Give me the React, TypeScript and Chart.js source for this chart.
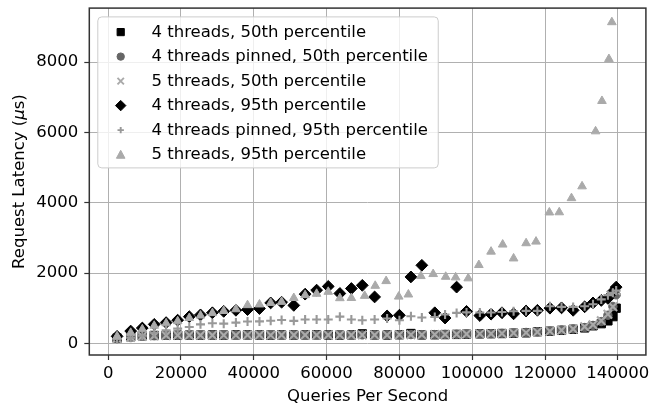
import { useEffect, useRef } from 'react';
import { Chart, registerables } from 'chart.js';

Chart.register(...registerables);

const FAMILY = '"DejaVu Sans", "Liberation Sans", sans-serif';
const FS = 16.5;

// ---- tick labels ----
const xTicks = [0, 20000, 40000, 60000, 80000, 100000, 120000, 140000];
const yTicks = [0, 2000, 4000, 6000, 8000];

// ---- series names ----
const seriesLabels = [
  '4 threads, 50th percentile',
  '4 threads pinned, 50th percentile',
  '5 threads, 50th percentile',
  '4 threads, 95th percentile',
  '4 threads pinned, 95th percentile',
  '5 threads, 95th percentile',
];

// ---- x values (queries per second) ----
const qpsMain = [
  2450, 6190, 9380, 12650, 15920, 19090, 22280, 25360, 28630, 31740,
  35090, 38280, 41560, 44640, 47640, 50990, 54100, 57260, 60450, 63640,
  66800, 69800, 73190, 76620, 80000, 83160, 86160, 89710, 92540, 95710,
  98430, 102090, 105170, 108170, 111360, 114790, 117900, 121340, 124530, 127720,
  130880, 133170, 135440, 137260, 138630, 139530,
];

const qps5t95 = [
  2450, 6190, 9380, 12650, 15920, 19090, 22280, 25360, 28630, 31740,
  35090, 38280, 41560, 44640, 47640, 50990, 54100, 57260, 60450, 63640,
  66800, 70460, 73350, 76350, 79810, 82460, 85890, 89270, 92710, 95440,
  98900, 101820, 105170, 108360, 111360, 114800, 117520, 121180, 123900, 127260,
  130170, 133880, 135630, 137540, 138350,
];

// ---- latency values (microseconds) ----
const lat4t50 = [
  150, 190, 215, 225, 230, 232, 235, 235, 238, 236,
  240, 240, 238, 236, 240, 238, 240, 242, 238, 236,
  240, 270, 240, 238, 245, 280, 240, 245, 250, 255,
  262, 270, 275, 280, 290, 300, 330, 345, 370, 400,
  440, 500, 560, 640, 760, 1000,
];

const latPinned50 = [
  140, 180, 205, 220, 228, 232, 232, 234, 235, 236,
  236, 238, 236, 236, 238, 238, 240, 240, 238, 236,
  238, 240, 240, 240, 245, 250, 248, 250, 255, 258,
  265, 272, 278, 285, 295, 310, 330, 350, 380, 410,
  450, 510, 620, 800, 1050, 1380,
];

const lat5t50 = [
  140, 175, 200, 218, 225, 230, 230, 232, 232, 234,
  234, 236, 236, 234, 236, 236, 238, 238, 236, 236,
  238, 240, 238, 240, 242, 245, 248, 250, 252, 258,
  265, 270, 275, 282, 292, 305, 325, 345, 375, 410,
  470, 530, 640, 830, 1040, 1500,
];

const lat4t95 = [
  200, 350, 437, 540, 590, 660, 760, 810, 870, 910,
  940, 960, 990, 1150, 1170, 1080, 1400, 1514, 1620, 1420,
  1560, 1650, 1320, 780, 800, 1890, 2220, 870, 720, 1600,
  910, 790, 830, 870, 840, 920, 940, 1000, 1010, 940,
  1040, 1150, 1220, 1280, 1470, 1600,
];

const latPinned95 = [
  120, 160, 220, 300, 370, 420, 466, 540, 570, 560,
  590, 620, 625, 645, 665, 640, 677, 677, 677, 760,
  677, 657, 677, 706, 657, 771, 734, 751, 820, 866,
  880, 877, 877, 894, 914, 923, 923, 1057, 1037, 1037,
  1057, 1114, 1250, 1371, 1437, 1500,
];

const lat5t95 = [
  200, 300, 400, 500, 570, 630, 720, 790, 860, 920,
  970, 1086, 1106, 1151, 1180, 1290, 1371, 1410, 1466, 1285,
  1290, 1351, 1637, 1771, 1330, 1390, 1914, 1971, 1894, 1877,
  1849, 2228, 2609, 2810, 2415, 2848, 2894, 3723, 3728, 4130,
  4466, 6030, 6894, 8086, 9134,
];

// ---- marker styles ----
type Mk = { style: string; color: string; radius: number; border: number; filled: boolean; lg: number };
const markers: Mk[] = [
  { style: 'rect', color: '#000000', radius: 5.9, border: 1, filled: true, lg: 3.6 },
  { style: 'circle', color: '#666666', radius: 4.2, border: 1, filled: true, lg: 3.7 },
  { style: 'crossRot', color: '#aaaaaa', radius: 6.0, border: 2.1, filled: false, lg: 3.2 },
  { style: 'rectRot', color: '#000000', radius: 5.9, border: 1, filled: true, lg: 5.2 },
  { style: 'cross', color: '#999999', radius: 4.5, border: 2.1, filled: false, lg: 3.2 },
  { style: 'triangle', color: '#aaaaaa', radius: 5.0, border: 1, filled: true, lg: 4.3 },
];

const seriesX = [qpsMain, qpsMain, qpsMain, qpsMain, qpsMain, qps5t95];
const seriesY = [lat4t50, latPinned50, lat5t50, lat4t95, latPinned95, lat5t95];

function drawLegendMarker(ctx: CanvasRenderingContext2D, m: Mk, x: number, y: number) {
  const r = m.lg;
  ctx.save();
  ctx.fillStyle = m.color;
  ctx.strokeStyle = m.color;
  ctx.lineWidth = m.filled ? 1 : 1.9;
  ctx.beginPath();
  switch (m.style) {
    case 'rect':
      ctx.rect(x - r, y - r, 2 * r, 2 * r);
      break;
    case 'circle':
      ctx.arc(x, y, r, 0, Math.PI * 2);
      break;
    case 'rectRot':
      ctx.moveTo(x - r, y);
      ctx.lineTo(x, y - r);
      ctx.lineTo(x + r, y);
      ctx.lineTo(x, y + r);
      ctx.closePath();
      break;
    case 'triangle':
      ctx.moveTo(x, y - r);
      ctx.lineTo(x + r, y + r * 0.85);
      ctx.lineTo(x - r, y + r * 0.85);
      ctx.closePath();
      break;
    case 'crossRot':
      ctx.moveTo(x - r, y - r);
      ctx.lineTo(x + r, y + r);
      ctx.moveTo(x + r, y - r);
      ctx.lineTo(x - r, y + r);
      break;
    case 'cross':
      ctx.moveTo(x - r, y);
      ctx.lineTo(x + r, y);
      ctx.moveTo(x, y - r);
      ctx.lineTo(x, y + r);
      break;
  }
  if (m.filled) {
    ctx.fill();
    ctx.stroke();
  } else {
    ctx.stroke();
  }
  ctx.restore();
}

function roundRect(ctx: CanvasRenderingContext2D, x: number, y: number, w: number, h: number, r: number) {
  ctx.beginPath();
  ctx.moveTo(x + r, y);
  ctx.lineTo(x + w - r, y);
  ctx.quadraticCurveTo(x + w, y, x + w, y + r);
  ctx.lineTo(x + w, y + h - r);
  ctx.quadraticCurveTo(x + w, y + h, x + w - r, y + h);
  ctx.lineTo(x + r, y + h);
  ctx.quadraticCurveTo(x, y + h, x, y + h - r);
  ctx.lineTo(x, y + r);
  ctx.quadraticCurveTo(x, y, x + r, y);
  ctx.closePath();
}

const decorPlugin = {
  id: 'decor',
  afterDraw(chart: any) {
    const ctx: CanvasRenderingContext2D = chart.ctx;
    const ca = chart.chartArea;
    // legend
    const lx = ca.left + 8;
    const ly = ca.top + 8.3;
    const rowH = 24.5;
    ctx.save();
    ctx.font = `${FS}px ${FAMILY}`;
    let maxW = 0;
    seriesLabels.forEach((t) => {
      maxW = Math.max(maxW, ctx.measureText(t).width);
    });
    const boxW = 54 + maxW + 10;
    const boxH = rowH * 6 + 4;
    roundRect(ctx, lx + 0.5, ly + 0.5, boxW, boxH, 4);
    ctx.fillStyle = 'rgba(255,255,255,0.8)';
    ctx.fill();
    ctx.strokeStyle = '#cccccc';
    ctx.lineWidth = 1;
    ctx.stroke();
    seriesLabels.forEach((t, i) => {
      const cy = ly + 15.7 + i * rowH;
      drawLegendMarker(ctx, markers[i], lx + 23.4, cy);
      ctx.fillStyle = '#000000';
      ctx.textBaseline = 'middle';
      ctx.textAlign = 'left';
      ctx.fillText(t, lx + 54.2, cy + 0.5);
    });
    ctx.restore();

    // frame
    ctx.save();
    ctx.strokeStyle = '#333333';
    ctx.lineWidth = 1.5;
    ctx.strokeRect(ca.left, ca.top, ca.right - ca.left, ca.bottom - ca.top);
    ctx.restore();

    // y-axis title with italic mu
    ctx.save();
    ctx.translate(19.5, (ca.top + ca.bottom) / 2);
    ctx.rotate(-Math.PI / 2);
    const f1 = `${FS}px ${FAMILY}`;
    const f2 = `italic ${FS}px ${FAMILY}`;
    const parts: [string, string][] = [
      ['Request Latency (', f1],
      ['\u03bc', f2],
      ['s)', f1],
    ];
    let total = 0;
    const widths = parts.map(([t, f]) => {
      ctx.font = f;
      const w = ctx.measureText(t).width;
      total += w;
      return w;
    });
    let x = -total / 2;
    ctx.fillStyle = '#000000';
    ctx.textBaseline = 'middle';
    ctx.textAlign = 'left';
    parts.forEach(([t, f], i) => {
      ctx.font = f;
      ctx.fillText(t, x, 0);
      x += widths[i];
    });
    ctx.restore();
  },
};

export default function App() {
  const ref = useRef<HTMLCanvasElement>(null);

  useEffect(() => {
    const canvas = ref.current;
    if (!canvas) return;
    const datasets = seriesLabels.map((label, i) => {
      const m = markers[i];
      return {
        label,
        data: seriesX[i].map((x, j) => ({ x, y: seriesY[i][j] })),
        pointStyle: m.style,
        pointRadius: m.radius,
        pointHoverRadius: m.radius,
        pointBackgroundColor: m.filled ? m.color : 'rgba(0,0,0,0)',
        pointBorderColor: m.color,
        pointBorderWidth: m.border,
        showLine: false,
        order: 6 - i,
      };
    });

    const tickFont = { family: FAMILY, size: FS };
    const chart = new Chart(canvas, {
      type: 'scatter',
      data: { datasets: datasets as any },
      options: {
        responsive: false,
        animation: false,
        devicePixelRatio: 1,
        layout: { padding: { left: 0, right: 4, top: 6.7, bottom: 0 } },
        plugins: {
          legend: { display: false },
          tooltip: { enabled: false },
        },
        scales: {
          x: {
            type: 'linear',
            min: -5180,
            max: 147700,
            afterBuildTicks: (s: any) => {
              s.ticks = xTicks.map((v) => ({ value: v }));
            },
            afterFit: (s: any) => {
              s.height = 54;
              s.paddingLeft = 0;
              s.paddingRight = 0;
            },
            border: { display: false },
            grid: {
              color: '#b0b0b0',
              lineWidth: 1,
              tickColor: '#333333',
              tickLength: 5,
              tickWidth: 1.2,
            },
            ticks: {
              color: '#000000',
              font: tickFont,
              padding: 4,
              maxRotation: 0,
              autoSkip: false,
              callback: (v: any) => String(v),
            },
            title: {
              display: true,
              text: 'Queries Per Second',
              color: '#000000',
              font: tickFont,
              padding: { top: 0, bottom: 2 },
            },
          },
          y: {
            type: 'linear',
            min: -331,
            max: 9535,
            afterBuildTicks: (s: any) => {
              s.ticks = yTicks.map((v) => ({ value: v }));
            },
            afterFit: (s: any) => {
              s.width = 89.3;
              s.paddingTop = 0;
              s.paddingBottom = 0;
            },
            border: { display: false },
            grid: {
              color: '#b0b0b0',
              lineWidth: 1,
              tickColor: '#333333',
              tickLength: 5,
              tickWidth: 1.2,
            },
            ticks: {
              color: '#000000',
              font: tickFont,
              padding: 6,
              autoSkip: false,
              callback: (v: any) => String(v),
            },
          },
        },
      } as any,
      plugins: [decorPlugin],
    });
    return () => chart.destroy();
  }, []);

  return (
    <div style={{ position: 'fixed', left: 0, top: 0, width: 654, height: 409, background: '#ffffff' }}>
      <canvas ref={ref} width={654} height={409} style={{ display: 'block' }} />
    </div>
  );
}
